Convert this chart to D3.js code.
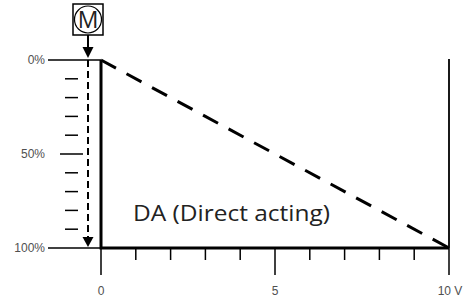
<!DOCTYPE html>
<html><head><meta charset="utf-8">
<script src="https://cdn.jsdelivr.net/npm/d3@7"></script>
<style>body{margin:0;background:#fff}svg{display:block}</style>
</head><body>
<script>
// Data
const voltTicks = [0,1,2,3,4,5,6,7,8,9,10];
const voltMajor = [0,5,10];
const voltLabels = ["0","5","10 V"];
const pctMajor = [0,50,100];
const pctLabels = ["0%","50%","100%"];
const pctMinor = [10,20,30,40,60,70,80,90];
const daVolt = [0,10];
const daPct = [0,100];
const solidVolt = [0,0,10];
const solidPct = [0,100,100];
const title = "DA (Direct acting)";
const motor = "M";

const W=472,H=302;
const svg=d3.select("body").append("svg").attr("width",W).attr("height",H);
const x=d3.scaleLinear().domain([0,10]).range([101,449]);
const y=d3.scaleLinear().domain([0,100]).range([60,248]);
const lbl="'Liberation Sans Narrow','Liberation Sans',Arial,sans-serif";

// horizontal reference lines (thin) left of 0
svg.append("line").attr("x1",48).attr("x2",x(0)).attr("y1",y(0)).attr("y2",y(0)).attr("stroke","#000").attr("stroke-width",1.5);
svg.append("line").attr("x1",48).attr("x2",x(0)).attr("y1",y(100)).attr("y2",y(100)).attr("stroke","#000").attr("stroke-width",1.5);

// y minor ticks
svg.selectAll(".ymin").data(pctMinor).join("line")
 .attr("x1",65).attr("x2",78).attr("y1",d=>y(d)).attr("y2",d=>y(d)).attr("stroke","#000").attr("stroke-width",1.5);
svg.append("line").attr("x1",60).attr("x2",83).attr("y1",y(50)).attr("y2",y(50)).attr("stroke","#000").attr("stroke-width",1.5);

// y labels
svg.selectAll(".ylab").data(pctMajor).join("text")
 .attr("x",45).attr("y",d=>y(d)).attr("dy","0.36em").attr("text-anchor","end")
 .attr("font-family",lbl).attr("font-size",12).attr("fill","#505050")
 .text((d,i)=>pctLabels[i]);

// x ticks
svg.selectAll(".xt").data(voltTicks).join("line")
 .attr("x1",d=>x(d)).attr("x2",d=>x(d)).attr("y1",y(100))
 .attr("y2",d=>voltMajor.includes(d)?275:260)
 .attr("stroke","#000").attr("stroke-width",1.5);
svg.selectAll(".xl").data(voltMajor).join("text")
 .attr("x",d=>x(d)+(d===10?1:0)).attr("y",295).attr("text-anchor","middle")
 .attr("font-family",lbl).attr("font-size",12).attr("fill","#505050")
 .text((d,i)=>voltLabels[i]);

// right vertical line at 10 V
svg.append("line").attr("x1",x(10)).attr("x2",x(10)).attr("y1",y(0)-1).attr("y2",y(100)).attr("stroke","#000").attr("stroke-width",1.8);

// solid DA frame
const solid=solidVolt.map((v,i)=>[x(v),y(solidPct[i])]);
svg.append("path").attr("d",d3.line()(solid)).attr("fill","none").attr("stroke","#000").attr("stroke-width",3).attr("stroke-linejoin","miter");

// dashed diagonal
const dash=daVolt.map((v,i)=>[x(v),y(daPct[i])]);
svg.append("path").attr("d",d3.line()(dash)).attr("fill","none").attr("stroke","#000").attr("stroke-width",3).attr("stroke-dasharray","17,12");

// motor box and arrow
const mx=88;
svg.append("rect").attr("x",mx-15).attr("y",4).attr("width",30).attr("height",31).attr("fill","#fff").attr("stroke","#000").attr("stroke-width",1.5);
svg.append("circle").attr("cx",mx).attr("cy",19.5).attr("r",13.5).attr("fill","none").attr("stroke","#000").attr("stroke-width",1.2);
svg.append("text").attr("x",mx).attr("y",19.5).attr("dy","0.36em").attr("text-anchor","middle")
 .attr("font-family","'Open Sans',sans-serif").attr("font-size",23).attr("fill","#222").text(motor);
svg.append("line").attr("x1",mx).attr("x2",mx).attr("y1",35).attr("y2",48).attr("stroke","#000").attr("stroke-width",2);
svg.append("path").attr("d",`M${mx-5.5},47L${mx+5.5},47L${mx},${y(0)-2}Z`).attr("fill","#000");

// dashed arrow down
svg.append("line").attr("x1",mx).attr("x2",mx).attr("y1",y(0)).attr("y2",y(100)-10).attr("stroke","#000").attr("stroke-width",2).attr("stroke-dasharray","7,4");
svg.append("path").attr("d",`M${mx-5.5},${y(100)-11}L${mx+5.5},${y(100)-11}L${mx},${y(100)-1}Z`).attr("fill","#000");

// label
svg.append("text").attr("x",133).attr("y",221)
 .attr("font-family","'Open Sans',sans-serif").attr("font-size",21).attr("fill","#222")
 .attr("textLength",197).attr("lengthAdjust","spacingAndGlyphs").text(title);
</script>
</body></html>
